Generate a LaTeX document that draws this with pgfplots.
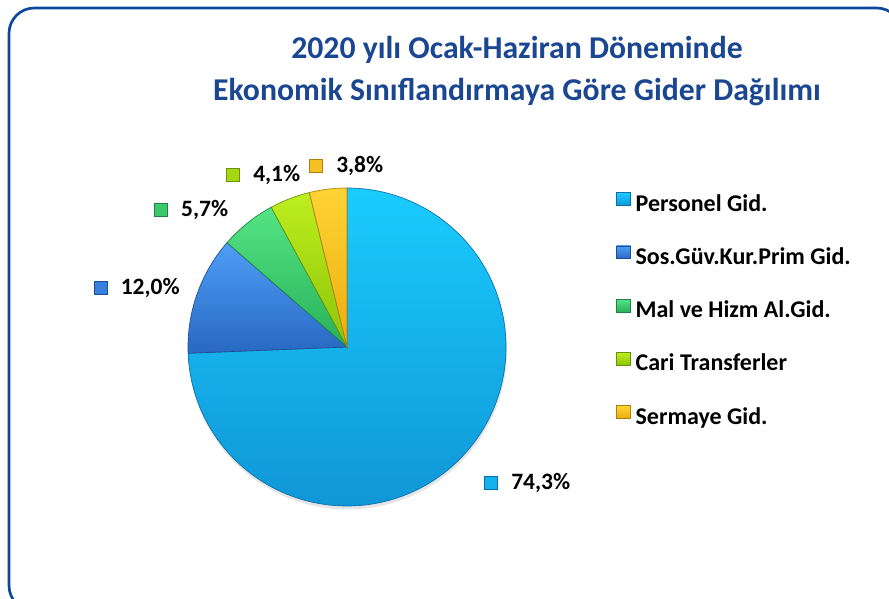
\documentclass[border=0pt]{standalone}
\usepackage{fontspec}
\setmainfont{Carlito}
\usepackage{pgfplots}
\pgfplotsset{compat=1.18}

\definecolor{titleblue}{RGB}{26,70,146}
\definecolor{frameblue}{RGB}{12,72,155}
\definecolor{persTop}{RGB}{26,204,255}
\definecolor{persBot}{RGB}{16,150,215}
\definecolor{persEdge}{RGB}{10,110,170}
\definecolor{persMid}{RGB}{22,178,236}
\definecolor{sosTop}{RGB}{78,158,246}
\definecolor{sosBot}{RGB}{40,104,194}
\definecolor{sosEdge}{RGB}{28,78,150}
\definecolor{sosMid}{RGB}{56,128,220}
\definecolor{malTop}{RGB}{84,228,132}
\definecolor{malBot}{RGB}{40,176,90}
\definecolor{malEdge}{RGB}{30,130,66}
\definecolor{malMid}{RGB}{62,200,110}
\definecolor{cariTop}{RGB}{190,238,30}
\definecolor{cariBot}{RGB}{140,196,10}
\definecolor{cariEdge}{RGB}{104,146,8}
\definecolor{cariMid}{RGB}{165,215,20}
\definecolor{serTop}{RGB}{255,212,52}
\definecolor{serBot}{RGB}{236,172,16}
\definecolor{serEdge}{RGB}{176,126,10}
\definecolor{serMid}{RGB}{245,192,34}

% shares (%)
\def\vA{74.3}\def\vB{12.0}\def\vC{5.7}\def\vD{4.1}\def\vE{3.8}
\pgfmathsetmacro\tot{\vA+\vB+\vC+\vD+\vE}
\pgfmathsetmacro\aA{90}
\pgfmathsetmacro\aB{\aA-\vA/\tot*360}
\pgfmathsetmacro\aC{\aB-\vB/\tot*360}
\pgfmathsetmacro\aD{\aC-\vC/\tot*360}
\pgfmathsetmacro\aE{\aD-\vD/\tot*360}
\pgfmathsetmacro\aF{\aE-\vE/\tot*360}

\tikzset{lab/.style={anchor=west, inner sep=0pt, xshift=15pt, font=\bfseries\fontsize{17.6}{20}\selectfont}}
\newcommand\legtxt[1]{\hspace{3.5pt}#1}

\begin{document}
\begin{tikzpicture}[x=0.75pt,y=0.75pt]
\useasboundingbox (0,0) rectangle (889,599);
\begin{scope}
\clip (0,0) rectangle (889,599);
\draw[frameblue, line width=2pt, rounded corners=19pt] (9,-12) rectangle (902,591);
\end{scope}
\node[anchor=base, text=titleblue, font=\bfseries\fontsize{23.8}{28}\selectfont, inner sep=0pt] at (517,540.5) {2020 yılı Ocak-Haziran Döneminde};
\node[anchor=base, text=titleblue, font=\bfseries\fontsize{23.8}{28}\selectfont, inner sep=0pt] at (517,498) {Ekonomik Sınıflandırmaya Göre Gider Dağılımı};
\coordinate (pc) at (188,93);

\begin{axis}[at={(pc)}, anchor=south west, scale only axis,
  width=238.5pt, height=238.5pt,
  xmin=-1, xmax=1, ymin=-1, ymax=1,
  hide axis, clip=false,
  legend cell align=left,
  legend style={at={(axis description cs:1.346,0.987)}, anchor=north west,
    draw=none, fill=none, inner sep=0pt, row sep=22.45pt,
    font=\bfseries\fontsize{18}{20}\selectfont,
    nodes={inner sep=0pt, text height=13pt, text depth=3.5pt}},
  legend image code/.code={\path[#1] (0pt,-0.5pt) rectangle (10.5pt,9pt);},
]
% soft shadow under the pie
\addplot[forget plot, draw=none, fill=black, opacity=0.10, data cs=polar, xshift=0.8pt, yshift=-2.2pt]
  coordinates {(0,1)} arc[start angle=0, end angle=360, radius=119.6pt] -- cycle;
\addplot[draw=persEdge, line width=0.5pt, top color=persTop, bottom color=persBot, data cs=polar]
  coordinates {(0,0) (\aA,1)} arc[start angle=\aA, end angle=\aB, radius=119.25pt] -- cycle;
\addlegendentry{\legtxt{Personel Gid.}}
\addplot[draw=sosEdge, line width=0.5pt, top color=sosTop, bottom color=sosBot, data cs=polar]
  coordinates {(0,0) (\aB,1)} arc[start angle=\aB, end angle=\aC, radius=119.25pt] -- cycle;
\addlegendentry{\legtxt{Sos.Güv.Kur.Prim Gid.}}
\addplot[draw=malEdge, line width=0.5pt, top color=malTop, bottom color=malBot, data cs=polar]
  coordinates {(0,0) (\aC,1)} arc[start angle=\aC, end angle=\aD, radius=119.25pt] -- cycle;
\addlegendentry{\legtxt{Mal ve Hizm Al.Gid.}}
\addplot[draw=cariEdge, line width=0.5pt, top color=cariTop, bottom color=cariBot, data cs=polar]
  coordinates {(0,0) (\aD,1)} arc[start angle=\aD, end angle=\aE, radius=119.25pt] -- cycle;
\addlegendentry{\legtxt{Cari Transferler}}
\addplot[draw=serEdge, line width=0.5pt, top color=serTop, bottom color=serBot, data cs=polar]
  coordinates {(0,0) (\aE,1)} arc[start angle=\aE, end angle=\aF, radius=119.25pt] -- cycle;
\addlegendentry{\legtxt{Sermaye Gid.}}

% data label markers
\addplot[forget plot, only marks, mark=square*, mark size=4.8pt, mark options={draw=persEdge, fill=persMid}] coordinates {(0.906,-0.855)};
\addplot[forget plot, only marks, mark=square*, mark size=4.8pt, mark options={draw=sosEdge, fill=sosMid}] coordinates {(-1.550,0.371)};
\addplot[forget plot, only marks, mark=square*, mark size=4.8pt, mark options={draw=malEdge, fill=malMid}] coordinates {(-1.170,0.862)};
\addplot[forget plot, only marks, mark=square*, mark size=4.8pt, mark options={draw=cariEdge, fill=cariMid}] coordinates {(-0.717,1.082)};
\addplot[forget plot, only marks, mark=square*, mark size=4.8pt, mark options={draw=serEdge, fill=serMid}] coordinates {(-0.195,1.138)};

\node[lab] at (axis cs:0.906,-0.855) {74,3\%};
\node[lab] at (axis cs:-1.550,0.371) {12,0\%};
\node[lab] at (axis cs:-1.170,0.862) {5,7\%};
\node[lab] at (axis cs:-0.717,1.082) {4,1\%};
\node[lab] at (axis cs:-0.195,1.138) {3,8\%};
\end{axis}
\end{tikzpicture}
\end{document}
